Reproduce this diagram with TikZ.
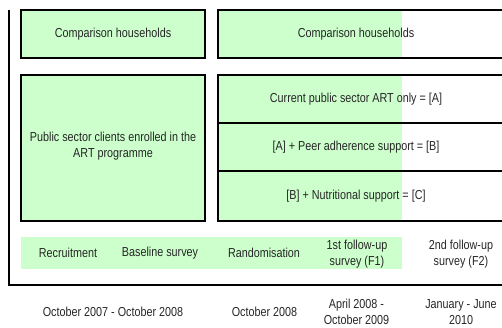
\documentclass[tikz,border=0pt]{standalone}
\usepackage{fontspec}
\setmainfont{Liberation Sans}[FakeStretch=0.83]
\definecolor{lgreen}{HTML}{CCFFCC}
\definecolor{txt}{HTML}{262626}
\tikzset{
  box/.style={draw=black, line width=2.5pt, fill=lgreen},
  edge/.style={draw=black, line width=2.5pt},
  band/.style={fill=lgreen},
  lbl/.style={font=\fontsize{13}{16}\selectfont, text=txt, align=center, inner sep=0pt},
  axis/.style={draw=black, line width=2pt}
}
\begin{document}
\begin{tikzpicture}[x=1pt,y=-1pt]
\useasboundingbox (0,0) rectangle (502,327);
% left boxes
\draw[box] (21,10) rectangle (205,58);
\draw[box] (21,75) rectangle (205,221);
% right boxes (green only partly)
\fill[lgreen] (218,10) rectangle (402,58);
\fill[lgreen] (218,75) rectangle (402,221);
\draw[edge] (502,10) -| (218,58) -- (502,58);
\draw[edge] (502,75) -| (218,221) -- (502,221);
\draw[edge] (218,123) -- (502,123);
\draw[edge] (218,171) -- (502,171);
% band
\fill[band] (21,237) rectangle (402,269);
% axis
\draw[axis] (9,10) |- (502,285);
% texts
\node[lbl] (ch1) at (113,34) {Comparison households};
\node[lbl] (ch2) at (356,34) {Comparison households};
\node[lbl] (ps) at (113,146) {Public sector clients enrolled in the\\ART programme};
\node[lbl] (ga) at (356,99) {Current public sector ART only = [A]};
\node[lbl] (gb) at (356,147) {[A] + Peer adherence support = [B]};
\node[lbl] (gc) at (356,196) {[B] + Nutritional support = [C]};
\node[lbl] (rec) at (68,253) {Recruitment};
\node[lbl] (bas) at (160,253) {Baseline survey};
\node[lbl] (ran) at (264,253) {Randomisation};
\node[lbl] (f1) at (357,254) {1st follow-up\\survey (F1)};
\node[lbl] (f2) at (461,254) {2nd follow-up\\survey (F2)};
\node[lbl] (d1) at (113,312) {October 2007 - October 2008};
\node[lbl] (d2) at (264.5,312) {October 2008};
\node[lbl] (d3) at (356.5,312) {April 2008 -\\October 2009};
\node[lbl] (d4) at (461,312) {January - June\\2010};
\end{tikzpicture}
\end{document}
